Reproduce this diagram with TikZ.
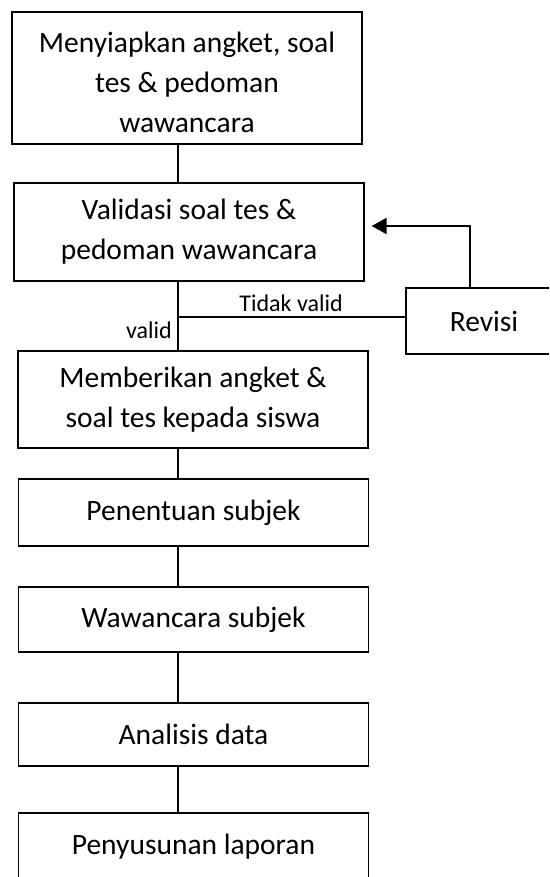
\documentclass[tikz,border=0pt]{standalone}
\usepackage{fontspec}
\setmainfont{Carlito}
\usetikzlibrary{arrows.meta, positioning}
\tikzset{
  kotak/.style={draw, line width=1.2pt, minimum width=350pt, align=center, font=\fontsize{29.5}{40}\selectfont},
  garis/.style={line width=2pt},
  ket/.style={font=\fontsize{24}{28}\selectfont, inner sep=0pt}
}

\begin{document}
\begin{tikzpicture}[x=1pt, y=-1pt]
  \clip (0,0) rectangle (549,877);
  \node[kotak, minimum height=132pt] (siapkan) at (187, 78) {\rule{0pt}{30pt}Menyiapkan angket, soal\\tes \& pedoman\\wawancara};
  \node[kotak, minimum height=98pt] (validasi) at (189, 232) {Validasi soal tes \&\\pedoman wawancara};
  \node[kotak, minimum height=97pt] (beri) at (193, 399.5) {Memberikan angket \&\\soal tes kepada siswa};
  \node[kotak, minimum height=67pt] (subjek) at (193.5, 512.5) {Penentuan subjek};
  \node[kotak, minimum height=65pt] (wawancara) at (193.5, 619.5) {Wawancara subjek};
  \node[kotak, minimum height=63pt] (analisis) at (193.5, 734.5) {Analisis data};
  \node[kotak, minimum height=67pt] (laporan) at (193.5, 846.5) {Penyusunan laporan};
  \node[kotak, minimum width=156pt, minimum height=66pt] (revisi) at (484, 321) {Revisi};
  \node[ket, anchor=east] (valid) at (172, 330) {valid};
  \node[ket] (tidak) at (291, 303) {Tidak valid};

  \coordinate (spine) at (178, 0);
  \coordinate (cabang) at (178, 317);
  \coordinate (balik) at (470, 226);

  \draw[garis]
  (siapkan.south -| spine) -- (validasi.north -| spine)
  (validasi.south -| spine) -- (beri.north -| spine)
  (beri.south -| spine) -- (subjek.north -| spine)
  (subjek.south -| spine) -- (wawancara.north -| spine)
  (wawancara.south -| spine) -- (analisis.north -| spine)
  (analisis.south -| spine) -- (laporan.north -| spine)
  (cabang) -- (cabang -| revisi.west);
  \draw[garis, -{Triangle[length=15pt, width=16pt]}] (revisi.north -| balik) -- (balik) -- ([xshift=7pt]validasi.east |- balik);
\end{tikzpicture}
\end{document}
